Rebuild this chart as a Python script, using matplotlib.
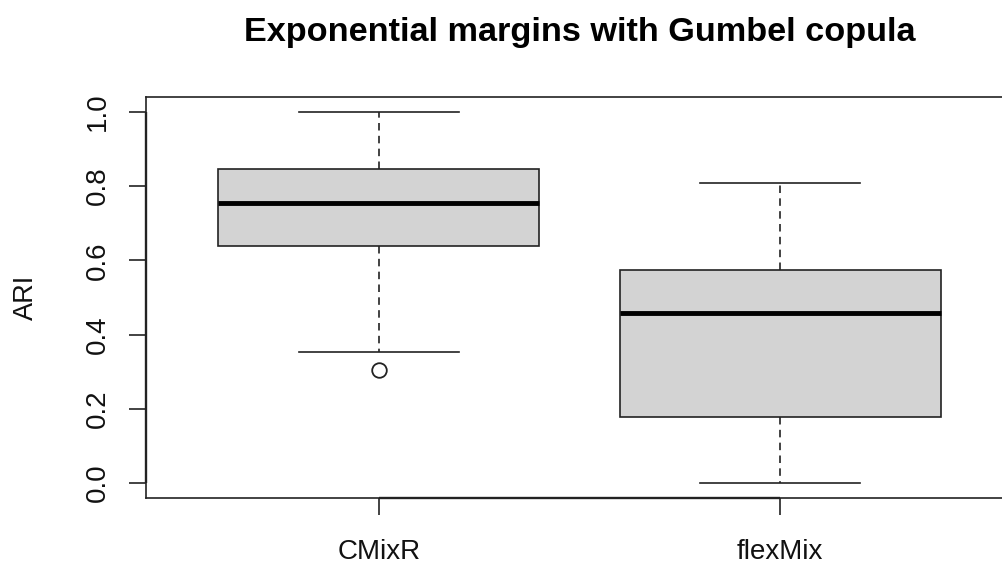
import matplotlib
matplotlib.use("Agg")
import matplotlib.pyplot as plt
import matplotlib.transforms as mtransforms

plt.rcParams['font.family'] = ['Liberation Sans', 'DejaVu Sans']

# Summary statistics of the ARI for each method
methods = ["CMixR", "flexMix"]
whisker_low = [0.353, 0.0]
q1 = [0.638, 0.179]
median = [0.755, 0.457]
q3 = [0.845, 0.574]
whisker_high = [1.0, 0.809]
outliers = [[0.306], []]

title = "Exponential margins with Gumbel copula"
ylabel = "ARI"
yticks = [0.0, 0.2, 0.4, 0.6, 0.8, 1.0]

W, H = 1003, 567
fig = plt.figure(figsize=(W / 100, H / 100), dpi=100)
left, right, top, bottom = 146, 1013, 97, 498
ax = fig.add_axes([left / W, (H - bottom) / H, (right - left) / W, (bottom - top) / H])

stats = []
for i, name in enumerate(methods):
    stats.append(dict(label=name, whislo=whisker_low[i], q1=q1[i], med=median[i],
                      q3=q3[i], whishi=whisker_high[i], fliers=outliers[i]))

ax.bxp(stats, positions=[1, 2], widths=0.8, capwidths=0.4, patch_artist=True,
       boxprops=dict(facecolor='#d3d3d3', edgecolor='#222222', linewidth=1.2),
       medianprops=dict(color='black', linewidth=3.5, solid_capstyle='butt'),
       whiskerprops=dict(color='#222222', linewidth=1.2, linestyle=(0, (4.5, 3.2))),
       capprops=dict(color='#222222', linewidth=1.2),
       flierprops=dict(marker='o', markerfacecolor='white', markeredgecolor='#222222',
                       markersize=10.5, markeredgewidth=1.3))

ax.set_xlim(0.42, 2.58)
ax.set_ylim(-0.04, 1.04)
ax.set_yticks(yticks)
ax.set_yticklabels([f"{v:.1f}" for v in yticks])
ax.set_xticks([1, 2])
ax.set_xticklabels(methods)

for s in ax.spines.values():
    s.set_linewidth(1.2)
    s.set_color('#222222')

# axis line running between the outer ticks of each axis
tb = mtransforms.blended_transform_factory(ax.transData, ax.transAxes)
ax.plot([1, 2], [0, 0], transform=tb, color='#222222', lw=1.7, clip_on=False,
        solid_capstyle='butt')
tl = mtransforms.blended_transform_factory(ax.transAxes, ax.transData)
ax.plot([0, 0], [0, 1], transform=tl, color='#222222', lw=1.7, clip_on=False,
        solid_capstyle='butt')

ax.tick_params(axis='both', direction='out', length=12.2, width=1.2, color='#222222',
               labelsize=20, labelcolor='#111111')
ax.tick_params(axis='y', labelrotation=90, pad=13)
ax.tick_params(axis='x', pad=17.5)
for lab in ax.get_yticklabels():
    lab.set_va('center')

fig.text(26 / W, 1 - 297 / H, ylabel, rotation=90, ha='center', va='center',
         fontsize=19.5, color='#111111')
fig.text(580 / W, 1 - 40.5 / H, title, ha='center', va='baseline',
         fontsize=24.7, fontweight='bold', color='black')

fig.savefig("out.png", dpi=100)
